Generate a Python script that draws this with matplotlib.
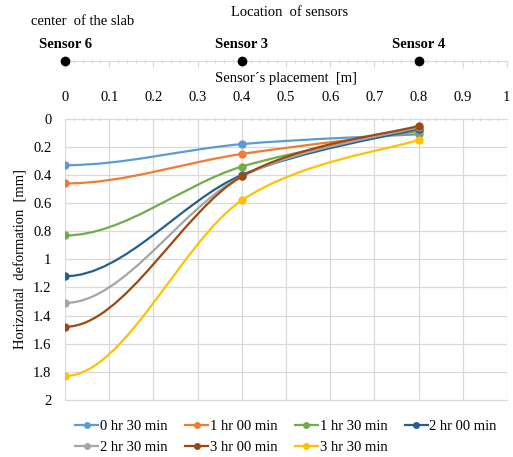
import numpy as np
import matplotlib
matplotlib.use("Agg")
import matplotlib.pyplot as plt
from matplotlib.path import Path
from matplotlib.patches import PathPatch
from matplotlib.ticker import MultipleLocator

plt.rcParams['font.family'] = ['Liberation Serif', 'DejaVu Serif']
plt.rcParams['font.size'] = 10.5

# data
positions = [0.0, 0.4, 0.8]
sensor_names = ["Sensor 6", "Sensor 3", "Sensor 4"]
labels = ["0 hr 30 min", "1 hr 00 min", "1 hr 30 min", "2 hr 00 min",
          "2 hr 30 min", "3 hr 00 min", "3 hr 30 min"]
d_0h30 = [0.33, 0.18, 0.11]
d_1h00 = [0.46, 0.25, 0.09]
d_1h30 = [0.83, 0.34, 0.08]
d_2h00 = [1.12, 0.40, 0.07]
d_2h30 = [1.31, 0.41, 0.06]
d_3h00 = [1.48, 0.41, 0.05]
d_3h30 = [1.83, 0.58, 0.15]
series = [d_0h30, d_1h00, d_1h30, d_2h00, d_2h30, d_3h00, d_3h30]
colors = ["#5B9BD5", "#ED7D31", "#70AD47", "#255E91", "#A5A5A5", "#9E480E", "#FFC000"]


def smooth_path(x, y):
    # Excel-like smoothed line as cubic bezier, flat start (symmetry at slab centre)
    pts = np.column_stack([x, y]).astype(float)
    n = len(pts)
    verts = [pts[0]]
    codes = [Path.MOVETO]
    for i in range(n - 1):
        p0 = pts[i]
        p1 = pts[i + 1]
        if i == 0:
            c1 = p0 + np.array([(p1[0] - p0[0]) / 3.0, 0.0])
        else:
            c1 = p0 + (p1 - pts[i - 1]) / 6.0
        nxt = pts[i + 2] if i + 2 < n else p1
        c2 = p1 - (nxt - p0) / 6.0
        verts += [c1, c2, p1]
        codes += [Path.CURVE4] * 3
    return Path(verts, codes)


fig = plt.figure(figsize=(5.13, 4.57), dpi=100)
ax = fig.add_axes([0.127, 0.125, 0.861, 0.615])

handles = []
for vals, c, lab in zip(series, colors, labels):
    ax.add_patch(PathPatch(smooth_path(positions, vals), fill=False,
                           edgecolor=c, lw=1.6))
    ax.plot(positions, vals, 'o', color=c, ms=5)
    h, = ax.plot([], [], '-o', color=c, lw=1.6, ms=4, label=lab)
    handles.append(h)

ax.set_xlim(0, 1)
ax.set_ylim(2, 0)
ax.xaxis.set_minor_locator(MultipleLocator(0.02))
ax.xaxis.tick_top()
ax.xaxis.set_label_position('top')
ax.set_xticks([0, 0.1, 0.2, 0.3, 0.4, 0.5, 0.6, 0.7, 0.8, 0.9, 1.0])
ax.set_xticklabels(["0", "0.1", "0.2", "0.3", "0.4", "0.5", "0.6", "0.7", "0.8", "0.9", "1"])
ax.set_yticks([0, 0.2, 0.4, 0.6, 0.8, 1.0, 1.2, 1.4, 1.6, 1.8, 2.0])
ax.set_yticklabels(["0", "0.2", "0.4", "0.6", "0.8", "1", "1.2", "1.4", "1.6", "1.8", "2"])
ax.tick_params(axis='x', which='major', length=0, pad=11)
ax.tick_params(axis='x', which='minor', length=3, color='#D9D9D9', direction='inout')
ax.tick_params(axis='y', length=0, pad=10)
ax.grid(True, which='major', color='#D9D9D9', lw=0.9)
for s in ['left', 'right']:
    ax.spines[s].set_visible(False)
ax.spines['top'].set_color('#D9D9D9')
ax.spines['bottom'].set_color('#D9D9D9')
ax.set_axisbelow(True)
ax.set_xlabel("Sensor´s placement  [m]", labelpad=6)
ax.set_ylabel("Horizontal  deformation  [mm]", labelpad=4)

# row-wise legend order
order = [0, 4, 1, 5, 2, 6, 3]
ax.legend([handles[i] for i in order], [labels[i] for i in order],
          loc='upper center', bbox_to_anchor=(0.5, -0.025), ncol=4,
          frameon=False, handlelength=1.6, handletextpad=0.1,
          columnspacing=1.2, labelspacing=0.55)

# sensor location strip
ax2 = fig.add_axes([0.127, 0.866, 0.861, 0.001])
ax2.set_xlim(0, 1)
ax2.set_ylim(-1, 1)
ax2.xaxis.set_major_locator(MultipleLocator(0.1))
ax2.xaxis.set_minor_locator(MultipleLocator(0.02))
ax2.tick_params(axis='x', which='major', length=5, color='#D9D9D9', direction='out',
                labelbottom=False)
ax2.tick_params(axis='x', which='minor', length=3, color='#D9D9D9', direction='inout')
ax2.set_yticks([])
for s in ['left', 'right', 'top']:
    ax2.spines[s].set_visible(False)
ax2.spines['bottom'].set_color('#D9D9D9')
ax2.spines['bottom'].set_position(('data', 0))
ax2.plot(positions, [0, 0, 0], 'o', color='black', ms=6, clip_on=False, zorder=10)
for xp, name in zip(positions, sensor_names):
    ax2.annotate(name, (xp, 0), xytext=(0, 7), textcoords='offset points',
                 ha='center', va='bottom', fontweight='bold')

fig.text(0.565, 0.972, "Location  of sensors", ha='center', va='center')
fig.text(0.06, 0.952, "center  of the slab", ha='left', va='center')

fig.savefig('out.png', dpi=100)
